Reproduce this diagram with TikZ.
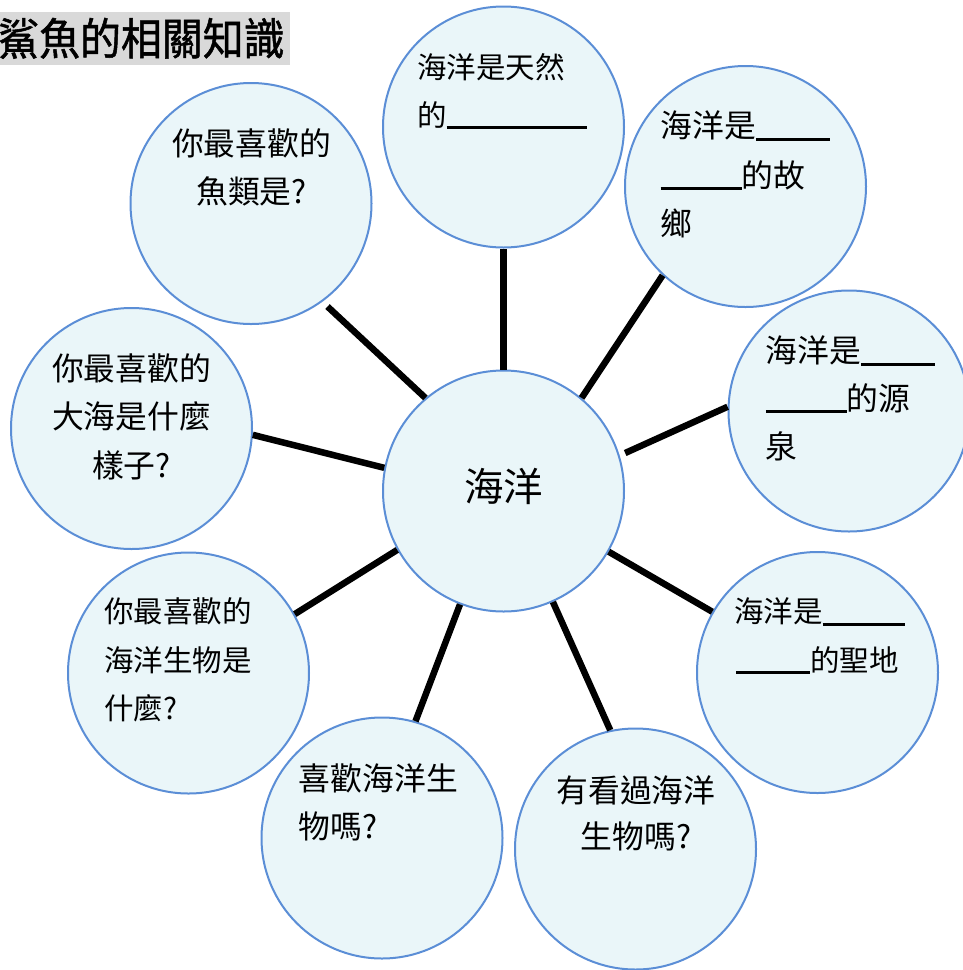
\documentclass[tikz,border=0pt]{standalone}
\usepackage{fontspec}
\setmainfont{Noto Sans CJK TC}
\newfontfamily\titlefont[FakeBold=1.2]{Noto Sans CJK TC}
\definecolor{circfill}{RGB}{234,246,249}
\definecolor{circline}{RGB}{91,142,214}
\definecolor{titlegray}{RGB}{217,217,217}
\newcommand{\ulblank}[1]{\rule[-3pt]{#1}{3pt}}
\tikzset{
  bubble/.style={circle, draw=circline, fill=circfill, line width=2pt, minimum size=241pt, inner sep=0pt},
  spoke/.style={line width=6.5pt, black},
  txta/.style={font=\fontsize{29.5pt}{48pt}\selectfont, inner sep=0pt, anchor=base west},
  txtb/.style={font=\fontsize{31.8pt}{48pt}\selectfont, inner sep=0pt, anchor=base west},
  txtbc/.style={font=\fontsize{31.8pt}{48pt}\selectfont, inner sep=0pt, anchor=base},
}
\begin{document}
\begin{tikzpicture}[x=1pt,y=-1pt]
\useasboundingbox (0,0) rectangle (963,970);
% title
\fill[titlegray] (0,12) rectangle (290,65);
\node[font=\titlefont\fontsize{44pt}{48pt}\selectfont, inner sep=0pt, anchor=base west] (title) at (-2,55) {\scalebox{0.93}[1]{鯊魚的相關知識}};
% circles
\node[bubble] (c)  at (503.5,491) {};
\node[bubble] (t)  at (503.5,127) {};
\node[bubble] (tr) at (745.5,186.5) {};
\node[bubble] (r)  at (849,411) {};
\node[bubble] (lr) at (817.5,672.5) {};
\node[bubble] (br) at (635.5,849) {};
\node[bubble] (bl) at (382,838) {};
\node[bubble] (ll) at (188.5,673) {};
\node[bubble] (l)  at (131.5,428.5) {};
\node[bubble] (tl) at (251,203.5) {};
% spokes
\draw[spoke] (c.90) -- (t.-90);
\draw[spoke] (c.50) -- (tr.227);
\draw[spoke, shorten <=6pt] (c.17.8) -- (r.178.6);
\draw[spoke] (c.-30.3) -- (lr.150);
\draw[spoke] (c.-66) -- (br.102.8);
\draw[spoke] (c.249.5) -- (bl.74.7);
\draw[spoke] (c.209.8) -- (ll.29.8);
\draw[spoke] (c.169.3) -- (l.-3.5);
\draw[spoke, shorten >=7pt] (c.130.8) -- (tl.-54.7);
% center text
\node[font=\fontsize{39.5pt}{48pt}\selectfont, inner sep=0pt, anchor=base] (ctext) at (503.5,501.7) {海洋};
% top
\node[txta] (t1) at (417,78.5) {海洋是天然};
\node[txta] (t2) at (417,126) {的\ulblank{140pt}};
% top right
\node[txtb] (tr1) at (660.5,137.7) {海洋是\ulblank{74pt}};
\node[txtb] (tr2) at (660.5,187) {\ulblank{81pt}的故};
\node[txtb] (tr3) at (660.5,235.3) {鄉};
% right
\node[txtb] (r1) at (765.7,362.8) {海洋是\ulblank{74pt}};
\node[txtb] (r2) at (765.7,410.3) {\ulblank{81pt}的源};
\node[txtb] (r3) at (765.7,458.7) {泉};
% lower right
\node[txta] (lr1) at (734,622.7) {海洋是\ulblank{82pt}};
\node[txta] (lr2) at (736,671) {\ulblank{74pt}的聖地};
% bottom right
\node[txtbc] (br1) at (636,802) {有看過海洋};
\node[txtbc] (br2) at (636,848.7) {生物嗎?};
% bottom left
\node[txtb] (bl1) at (298.7,790.3) {喜歡海洋生};
\node[txtb] (bl2) at (298.7,838.7) {物嗎?};
% left lower
\node[txta] (ll1) at (103.8,622.7) {你最喜歡的};
\node[txta] (ll2) at (103.8,671) {海洋生物是};
\node[txta] (ll3) at (103.8,719.3) {什麼?};
% left
\node[txtbc] (l1) at (131.5,380.3) {你最喜歡的};
\node[txtbc] (l2) at (131.5,428.7) {大海是什麼};
\node[txtbc] (l3) at (131.5,477) {樣子?};
% top left
\node[txtbc] (tl1) at (251.5,155.3) {你最喜歡的};
\node[txtbc] (tl2) at (251.5,203.7) {魚類是?};
\end{tikzpicture}
\end{document}
